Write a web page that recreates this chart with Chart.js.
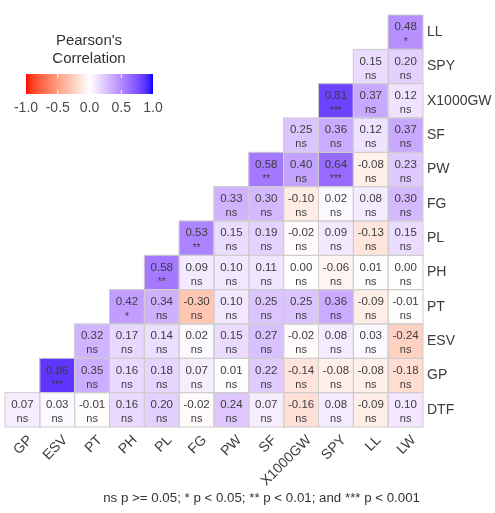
<!DOCTYPE html>
<html>
<head>
<meta charset="utf-8">
<script src="https://cdn.jsdelivr.net/npm/chart.js@4.4.1/dist/chart.umd.min.js"></script>
<style>
  html, body { margin: 0; padding: 0; background: #ffffff; }
  #wrap { width: 495px; height: 513px; }
</style>
</head>
<body>
<div id="wrap"><canvas id="corr" width="495" height="513"></canvas></div>
<script>
// Variables: rows listed bottom to top, columns left to right
const rowVars = ['DTF', 'GP', 'ESV', 'PT', 'PH', 'PL', 'FG', 'PW', 'SF', 'X1000GW', 'SPY', 'LL'];
const colVars = ['GP', 'ESV', 'PT', 'PH', 'PL', 'FG', 'PW', 'SF', 'X1000GW', 'SPY', 'LL', 'LW'];

// Pearson correlation coefficients, one array per row (null = upper triangle, not drawn)
const rDTF  = [0.07, 0.03, -0.01, 0.16, 0.20, -0.02, 0.24, 0.07, -0.16, 0.08, -0.09, 0.10];
const rGP   = [null, 0.86, 0.35, 0.16, 0.18, 0.07, 0.01, 0.22, -0.14, -0.08, -0.08, -0.18];
const rESV  = [null, null, 0.32, 0.17, 0.14, 0.02, 0.15, 0.27, -0.02, 0.08, 0.03, -0.24];
const rPT   = [null, null, null, 0.42, 0.34, -0.30, 0.10, 0.25, 0.25, 0.36, -0.09, -0.01];
const rPH   = [null, null, null, null, 0.58, 0.09, 0.10, 0.11, 0.00, -0.06, 0.01, 0.00];
const rPL   = [null, null, null, null, null, 0.53, 0.15, 0.19, -0.02, 0.09, -0.13, 0.15];
const rFG   = [null, null, null, null, null, null, 0.33, 0.30, -0.10, 0.02, 0.08, 0.30];
const rPW   = [null, null, null, null, null, null, null, 0.58, 0.40, 0.64, -0.08, 0.23];
const rSF   = [null, null, null, null, null, null, null, null, 0.25, 0.36, 0.12, 0.37];
const rX1000GW = [null, null, null, null, null, null, null, null, null, 0.81, 0.37, 0.12];
const rSPY  = [null, null, null, null, null, null, null, null, null, null, 0.15, 0.20];
const rLL   = [null, null, null, null, null, null, null, null, null, null, null, 0.48];
const corrRows = [rDTF, rGP, rESV, rPT, rPH, rPL, rFG, rPW, rSF, rX1000GW, rSPY, rLL];

// Significant pairs [row, column, stars]; every other pair is "ns"
const starred = [
  ['GP', 'ESV', '***'],
  ['PT', 'PH', '*'],
  ['PH', 'PL', '**'],
  ['PL', 'FG', '**'],
  ['PW', 'SF', '**'],
  ['PW', 'SPY', '***'],
  ['X1000GW', 'SPY', '***'],
  ['LL', 'LW', '*']
];

// Colour bar tick labels
const legendTicks = [-1.0, -0.5, 0.0, 0.5, 1.0];
const captionText = 'ns p >= 0.05; * p < 0.05; ** p < 0.01; and *** p < 0.001';

function sigFor(row, col) {
  const hit = starred.find(s => s[0] === row && s[1] === col);
  return hit ? hit[2] : 'ns';
}

// ---- diverging colour scale (red - white - blue), interpolated in CIE Lab ----
function srgbToLinear(c) { c /= 255; return c <= 0.04045 ? c / 12.92 : Math.pow((c + 0.055) / 1.055, 2.4); }
function linearToSrgb(c) { c = c <= 0.0031308 ? 12.92 * c : 1.055 * Math.pow(c, 1 / 2.4) - 0.055; return Math.round(Math.max(0, Math.min(1, c)) * 255); }
const WX = 0.95047, WY = 1.0, WZ = 1.08883;
function rgbToLab(rgb) {
  const r = srgbToLinear(rgb[0]), g = srgbToLinear(rgb[1]), b = srgbToLinear(rgb[2]);
  const X = (0.4124 * r + 0.3576 * g + 0.1805 * b) / WX;
  const Y = (0.2126 * r + 0.7152 * g + 0.0722 * b) / WY;
  const Z = (0.0193 * r + 0.1192 * g + 0.9505 * b) / WZ;
  const f = t => t > 0.008856 ? Math.cbrt(t) : 7.787 * t + 16 / 116;
  const fx = f(X), fy = f(Y), fz = f(Z);
  return [116 * fy - 16, 500 * (fx - fy), 200 * (fy - fz)];
}
function labToRgb(lab) {
  const fy = (lab[0] + 16) / 116, fx = fy + lab[1] / 500, fz = fy - lab[2] / 200;
  const inv = t => t * t * t > 0.008856 ? t * t * t : (t - 16 / 116) / 7.787;
  const X = inv(fx) * WX, Y = inv(fy) * WY, Z = inv(fz) * WZ;
  const r = 3.2406 * X - 1.5372 * Y - 0.4986 * Z;
  const g = -0.9689 * X + 1.8758 * Y + 0.0415 * Z;
  const b = 0.0557 * X - 0.2040 * Y + 1.0570 * Z;
  return [linearToSrgb(r), linearToSrgb(g), linearToSrgb(b)];
}
const LAB_LOW = rgbToLab([255, 0, 0]);
const LAB_MID = rgbToLab([255, 255, 255]);
const LAB_HIGH = rgbToLab([0, 0, 255]);
function corrColor(v) {
  const t = Math.min(1, Math.abs(v));
  const end = v < 0 ? LAB_LOW : LAB_HIGH;
  const lab = [0, 1, 2].map(k => LAB_MID[k] + (end[k] - LAB_MID[k]) * t);
  const c = labToRgb(lab);
  return 'rgb(' + c[0] + ',' + c[1] + ',' + c[2] + ')';
}

// ---- one floating-bar dataset per row; each bar spans [row, row + 1] ----
const datasets = rowVars.map((name, i) => ({
  label: name,
  data: corrRows[i].map(v => v === null ? null : [i, i + 1]),
  backgroundColor: corrRows[i].map(v => v === null ? 'rgba(0,0,0,0)' : corrColor(v)),
  borderWidth: 0,
  grouped: false,
  barPercentage: 1.0,
  categoryPercentage: 1.0
}));

const FONT = '"Liberation Sans", Arial, sans-serif';
const TEXT = '#3c3c3c';

// Cell outlines and the value / significance text inside each tile
const cellText = {
  id: 'cellText',
  afterDatasetsDraw(chart) {
    const ctx = chart.ctx, xs = chart.scales.x, ys = chart.scales.y;
    const half = (xs.getPixelForValue(1) - xs.getPixelForValue(0)) / 2;
    ctx.save();
    ctx.strokeStyle = '#cdcdcd';
    ctx.lineWidth = 1;
    corrRows.forEach((row, i) => {
      row.forEach((v, j) => {
        if (v === null) return;
        const cx = xs.getPixelForValue(j);
        const y0 = ys.getPixelForValue(i + 1), y1 = ys.getPixelForValue(i);
        ctx.strokeRect(cx - half, y0, half * 2, y1 - y0);
      });
    });
    ctx.fillStyle = TEXT;
    ctx.textAlign = 'center';
    ctx.textBaseline = 'middle';
    corrRows.forEach((row, i) => {
      row.forEach((v, j) => {
        if (v === null) return;
        const cx = xs.getPixelForValue(j);
        const cy = ys.getPixelForValue(i + 0.5);
        ctx.font = '11.5px ' + FONT;
        ctx.fillText(v.toFixed(2), cx, cy - 5);
        const s = sigFor(rowVars[i], colVars[j]);
        ctx.font = (s === 'ns' ? '11px ' : '10px ') + FONT;
        ctx.fillText(s, cx, s === 'ns' ? cy + 9 : cy + 10);
      });
    });
    ctx.restore();
  }
};

// Colour bar legend in the upper-left corner and the caption under the plot
const legendAndCaption = {
  id: 'legendAndCaption',
  afterDraw(chart) {
    const ctx = chart.ctx, area = chart.chartArea;
    ctx.save();
    ctx.fillStyle = '#333333';
    ctx.textAlign = 'center';
    ctx.textBaseline = 'middle';
    ctx.font = '15px ' + FONT;
    ctx.fillText("Pearson's", 89, 41);
    ctx.fillText('Correlation', 89, 59);

    const bx0 = 26, bx1 = 153, by0 = 74, by1 = 94;
    const grad = ctx.createLinearGradient(bx0, 0, bx1, 0);
    for (let k = 0; k <= 40; k++) {
      const v = -1 + k / 20;
      grad.addColorStop(k / 40, corrColor(v));
    }
    ctx.fillStyle = grad;
    ctx.fillRect(bx0, by0, bx1 - bx0, by1 - by0);

    ctx.strokeStyle = 'rgba(255,255,255,0.9)';
    ctx.lineWidth = 1;
    ctx.font = '14px ' + FONT;
    legendTicks.forEach(t => {
      const px = bx0 + (t + 1) / 2 * (bx1 - bx0);
      if (t > -1 && t < 1) {
        ctx.beginPath();
        ctx.moveTo(px, by0); ctx.lineTo(px, by0 + 4);
        ctx.moveTo(px, by1 - 4); ctx.lineTo(px, by1);
        ctx.stroke();
      }
      ctx.fillStyle = '#4a4a4a';
      ctx.fillText(t.toFixed(1), px, 108);
    });

    ctx.fillStyle = '#333333';
    ctx.textAlign = 'right';
    ctx.font = '13.3px ' + FONT;
    ctx.fillText(captionText, area.right - 3, 498);
    ctx.restore();
  }
};

new Chart(document.getElementById('corr'), {
  type: 'bar',
  data: { labels: colVars, datasets: datasets },
  options: {
    responsive: false,
    animation: false,
    devicePixelRatio: 1,
    layout: { padding: { left: 5, top: 15, right: 0, bottom: 0 } },
    plugins: { legend: { display: false }, tooltip: { enabled: false } },
    scales: {
      x: {
        type: 'category',
        offset: true,
        grid: { display: false, drawTicks: false },
        border: { display: false },
        ticks: {
          color: TEXT,
          font: { family: FONT, size: 14 },
          maxRotation: 45,
          minRotation: 45,
          autoSkip: false,
          labelOffset: 8,
          padding: 5
        },
        afterFit(scale) { scale.height = 86; scale.paddingLeft = 0; scale.paddingRight = 0; }
      },
      y: {
        type: 'linear',
        position: 'right',
        min: 0,
        max: rowVars.length,
        grid: { display: false, drawTicks: false },
        border: { display: false },
        afterBuildTicks(scale) {
          scale.ticks = rowVars.map((r, i) => ({ value: i + 0.5 }));
        },
        ticks: {
          color: TEXT,
          font: { family: FONT, size: 14 },
          padding: 4,
          callback: (value) => rowVars[Math.floor(value)]
        },
        afterFit(scale) { scale.width = 72; scale.paddingTop = 0; scale.paddingBottom = 0; }
      }
    }
  },
  plugins: [cellText, legendAndCaption]
});
</script>
</body>
</html>
